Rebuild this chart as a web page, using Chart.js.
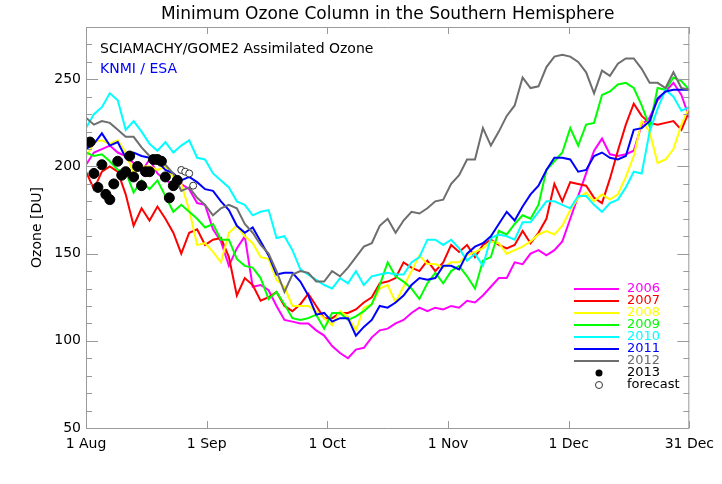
<!DOCTYPE html>
<html lang="en">

<head>
    <meta charset="UTF-8">
    <title>Minimum Ozone Column</title>
    <style>
        body {
            margin: 0;
            background: white;
            overflow: hidden;
        }
    </style>
</head>

<body>
    <canvas id="grafico" width="722" height="484"></canvas>
</body>

</html>
<script src="https://cdn.jsdelivr.net/npm/chart.js"></script>
<script>

    // days since 1 Aug, one value every 2 days
    var days = [];
    for (let d = 0; d <= 152; d += 2) days.push(d);

    var xTickDays = [0, 30.4, 60.8, 91.2, 121.6, 152];
    var xTickLabels = ['1 Aug', '1 Sep', '1 Oct', '1 Nov', '1 Dec', '31 Dec'];

    var y2006 = [201, 208, 210, 212, 208, 206, 202, 197, 204, 196,
        192, 190, 190, 187, 179, 178, 164, 157, 143, 153,
        160, 131, 132, 129, 120, 112, 111, 110, 110, 106,
        103, 97, 93, 90, 95, 96, 102, 106, 107, 110,
        112, 116, 119, 117, 119, 118, 120, 119, 123, 122,
        126, 131, 136, 136, 145, 144, 150, 152, 149, 152,
        157, 170, 183, 196, 209, 216, 207, 206, 207, 209,
        224, 228, 238, 243, 248, 241, 228];

    var y2007 = [197, 187, 197, 200, 197, 184, 166, 176, 169, 177,
        170, 162, 150, 162, 164, 155, 158, 159, 148, 126,
        136, 132, 123, 125, 128, 120, 117, 121, 127, 120,
        113, 113, 116, 116, 118, 122, 125, 133, 134, 136,
        145, 142, 140, 146, 140, 145, 155, 151, 155, 148,
        155, 158, 155, 153, 155, 163, 156, 162, 170, 190,
        180, 191, 190, 189, 182, 179, 193, 209, 224, 236,
        229, 225, 224, 225, 226, 221, 232];

    var y2008 = [205, 214, 215, 213, 215, 208, 196, 200, 200, 198,
        200, 194, 190, 175, 155, 156, 151, 145, 162, 166,
        160, 156, 148, 147, 135, 131, 120, 120, 120, 117,
        113, 109, 117, 114, 106, 119, 121, 130, 132, 122,
        131, 140, 149, 144, 144, 142, 145, 145, 149, 151,
        153, 157, 156, 150, 152, 154, 157, 161, 163, 161,
        166, 175, 182, 185, 180, 184, 181, 184, 194, 206,
        226, 220, 202, 204, 210, 224, 234];

    var y2009 = [208, 206, 207, 203, 198, 197, 185, 192, 187, 192,
        183, 174, 178, 174, 170, 165, 167, 158, 158, 147,
        143, 142, 136, 124, 128, 121, 113, 112, 113, 115,
        107, 116, 116, 112, 114, 117, 121, 132, 145, 137,
        134, 130, 124, 133, 139, 133, 140, 143, 137, 130,
        146, 148, 163, 161, 167, 172, 170, 178, 198, 203,
        208, 222, 212, 224, 225, 241, 243, 247, 248, 245,
        235, 223, 245, 244, 251, 249, 244];

    var y2010 = [222, 230, 234, 242, 238, 221, 226, 220, 213, 209,
        214, 208, 212, 215, 205, 204, 196, 192, 188, 180,
        178, 172, 174, 175, 159, 160, 152, 141, 138, 135,
        132, 130, 136, 133, 140, 132, 137, 138, 139, 138,
        138, 145, 148, 158, 158, 155, 158, 153, 146, 150,
        143, 159, 161, 160, 158, 168, 168, 174, 180, 180,
        178, 176, 183, 183, 178, 174, 179, 181, 188, 197,
        196, 220, 233, 244, 240, 232, 234];

    var y2011 = [210, 213, 219, 212, 214, 205, 208, 206, 205, 203,
        198, 196, 192, 194, 191, 187, 186, 180, 175, 166,
        162, 165, 157, 149, 138, 139, 139, 134, 126, 115,
        116, 111, 113, 113, 103, 108, 112, 120, 119, 122,
        126, 132, 136, 135, 136, 143, 143, 141, 150, 154,
        156, 160, 167, 174, 169, 177, 184, 189, 198, 205,
        205, 204, 197, 198, 206, 208, 205, 204, 206, 221,
        222, 226, 239, 243, 244, 244, 244];

    var y2012 = [228, 224, 226, 225, 221, 217, 217, 211, 206, 205,
        201, 196, 186, 188, 182, 178, 172, 176, 178, 176,
        167, 162, 155, 150, 140, 128, 138, 140, 139, 134,
        134, 140, 137, 142, 148, 154, 156, 166, 170, 162,
        169, 174, 173, 176, 180, 181, 190, 195, 204, 204,
        222, 212, 220, 229, 235, 251, 245, 246, 257, 263,
        264, 263, 260, 254, 242, 255, 252, 259, 262, 262,
        256, 248, 248, 245, 254, 245, 244];

    // 2013 daily values and the forecast
    var days2013 = [1, 2, 3, 4, 5, 6, 7, 8, 9, 10, 11, 12, 13, 14, 15, 16, 17, 18, 19, 20, 21, 22, 23];
    var y2013 = [214, 196, 188, 201, 184, 181, 190, 203, 195, 197, 206, 194, 200, 189, 197, 197, 204, 204, 203, 194, 182, 189, 192];
    var daysForecast = [24, 25, 26, 27];
    var yForecast = [198, 197, 196, 189];

    var axisColor = '#9a9a9a';
    var fonte = 'DejaVu Sans';

    function pontos(xs, ys) {
        return xs.map(function (x, i) { return { x: x, y: ys[i] }; });
    }

    function serie(label, ys, cor, ordem) {
        return {
            label: label,
            data: pontos(days, ys),
            borderColor: cor,
            backgroundColor: cor,
            borderWidth: 2,
            pointRadius: 0,
            tension: 0,
            order: ordem
        };
    }

    var datasets = [
        serie('2006', y2006, '#ff00ff', 8),
        serie('2007', y2007, '#ff0000', 7),
        serie('2008', y2008, '#ffff00', 6),
        serie('2009', y2009, '#00ff00', 5),
        serie('2010', y2010, '#00ffff', 4),
        serie('2011', y2011, '#0000ff', 3),
        serie('2012', y2012, '#6e6e6e', 2),
        {
            label: '2013',
            data: pontos(days2013, y2013),
            showLine: false,
            pointRadius: 5,
            pointBackgroundColor: '#000',
            pointBorderColor: '#000',
            borderColor: '#000',
            order: 1
        },
        {
            label: 'forecast',
            data: pontos(daysForecast, yForecast),
            showLine: false,
            pointRadius: 3.5,
            pointBorderWidth: 1,
            pointBackgroundColor: '#fff',
            pointBorderColor: '#333',
            borderColor: '#333',
            order: 0
        }
    ];

    // IDL style box with inward ticks, titles and legend
    var moldura = {
        id: 'moldura',
        afterDatasetsDraw: function (chart) {
            var ctx = chart.ctx;
            var a = chart.chartArea;
            var x = chart.scales.x;
            var y = chart.scales.y;
            ctx.save();
            ctx.strokeStyle = axisColor;
            ctx.lineWidth = 1;
            ctx.beginPath();
            ctx.rect(a.left + 0.5, a.top + 0.5, a.right - a.left - 1, a.bottom - a.top);
            y.ticks.forEach(function (t) {
                var py = Math.round(y.getPixelForValue(t.value)) + 0.5;
                var len = t.value % 50 === 0 ? 12 : 6;
                ctx.moveTo(a.left, py); ctx.lineTo(a.left + len, py);
                ctx.moveTo(a.right, py); ctx.lineTo(a.right - len, py);
            });
            x.ticks.forEach(function (t) {
                var px = Math.round(x.getPixelForValue(t.value)) + 0.5;
                ctx.moveTo(px, a.bottom); ctx.lineTo(px, a.bottom - 7);
                ctx.moveTo(px, a.top); ctx.lineTo(px, a.top + 7);
            });
            ctx.stroke();
            ctx.restore();
        },
        afterDraw: function (chart) {
            var ctx = chart.ctx;
            var a = chart.chartArea;
            ctx.save();
            ctx.fillStyle = '#000';
            ctx.textAlign = 'center';
            ctx.textBaseline = 'alphabetic';
            ctx.font = '17px "' + fonte + '"';
            ctx.fillText('Minimum Ozone Column in the Southern Hemisphere', (a.left + a.right) / 2, 19);

            ctx.textAlign = 'left';
            ctx.font = '14px "' + fonte + '"';
            ctx.fillText('SCIAMACHY/GOME2 Assimilated Ozone', 100, 53);
            ctx.fillStyle = '#0000ff';
            ctx.fillText('KNMI / ESA', 100, 73);

            ctx.fillStyle = '#000';
            ctx.translate(37, (a.top + a.bottom) / 2);
            ctx.rotate(-Math.PI / 2);
            ctx.textAlign = 'center';
            ctx.textBaseline = 'middle';
            ctx.fillText('Ozone [DU]', 0, 0);
            ctx.restore();

            // legend
            ctx.save();
            ctx.font = '13px "' + fonte + '"';
            ctx.textBaseline = 'middle';
            ctx.textAlign = 'left';
            var ly = 289;
            chart.data.datasets.forEach(function (ds) {
                if (ds.showLine === false) {
                    ctx.beginPath();
                    ctx.arc(599, ly, 3.5, 0, Math.PI * 2);
                    if (ds.label === '2013') {
                        ctx.fillStyle = '#000';
                        ctx.fill();
                    } else {
                        ctx.fillStyle = '#fff';
                        ctx.fill();
                        ctx.strokeStyle = '#333';
                        ctx.lineWidth = 1;
                        ctx.stroke();
                    }
                    ctx.fillStyle = '#000';
                } else {
                    ctx.strokeStyle = ds.borderColor;
                    ctx.lineWidth = 2;
                    ctx.beginPath();
                    ctx.moveTo(574, ly);
                    ctx.lineTo(619, ly);
                    ctx.stroke();
                    ctx.fillStyle = ds.borderColor;
                }
                ctx.fillText(ds.label, 627, ly);
                ly += 12;
            });
            ctx.restore();
        }
    };

    var grafico = new Chart(document.getElementById('grafico'), {
        type: 'line',
        data: { datasets: datasets },
        plugins: [moldura],
        options: {
            responsive: false,
            animation: false,
            layout: { padding: { top: 27, right: 27, left: 0, bottom: 0 } },
            plugins: {
                legend: { display: false },
                tooltip: { enabled: false }
            },
            scales: {
                x: {
                    type: 'linear',
                    min: 0,
                    max: 152,
                    border: { display: false },
                    grid: { display: false, drawTicks: false },
                    afterBuildTicks: function (s) {
                        s.ticks = xTickDays.map(function (v) { return { value: v }; });
                    },
                    afterFit: function (s) { s.height = 56; },
                    ticks: {
                        autoSkip: false,
                        maxRotation: 0,
                        padding: 8,
                        color: '#000',
                        font: { family: fonte, size: 14 },
                        callback: function (v, i) { return xTickLabels[i]; }
                    }
                },
                y: {
                    min: 50,
                    max: 280,
                    border: { display: false },
                    grid: { display: false, drawTicks: false },
                    afterFit: function (s) { s.width = 86; },
                    ticks: {
                        stepSize: 10,
                        autoSkip: false,
                        padding: 5,
                        color: '#000',
                        font: { family: fonte, size: 14 },
                        callback: function (v) { return (v % 50 === 0 && v <= 250) ? v : ''; }
                    }
                }
            }
        }
    });
</script>
